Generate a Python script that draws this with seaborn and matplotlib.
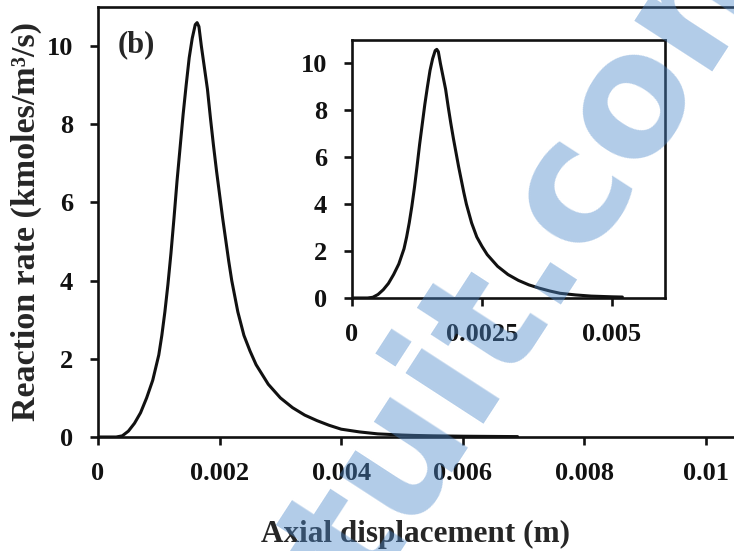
import pandas as pd
import seaborn as sns
import matplotlib.pyplot as plt

# reaction rate profile along the axis
axial_x = [0.0, 0.0003, 0.0004, 0.0005, 0.0006, 0.0007, 0.0008, 0.0009, 0.0010,
           0.00105, 0.0011, 0.00115, 0.0012, 0.00125, 0.0013, 0.00135, 0.0014,
           0.00145, 0.0015, 0.00155, 0.0016, 0.00163, 0.00166, 0.0017, 0.00175,
           0.0018, 0.00185, 0.0019, 0.00195, 0.0020, 0.00205, 0.0021, 0.00215,
           0.0022, 0.00225, 0.0023, 0.0024, 0.0025, 0.0026, 0.0028, 0.0030,
           0.0032, 0.0034, 0.0036, 0.0038, 0.0040, 0.0043, 0.0046, 0.0050,
           0.0052, 0.0055, 0.0060, 0.0069]
rate = [0.0, 0.0, 0.03, 0.15, 0.35, 0.62, 1.0, 1.45, 2.1,
        2.6, 3.2, 3.9, 4.7, 5.6, 6.55, 7.4, 8.25,
        9.0, 9.7, 10.2, 10.55, 10.6, 10.5, 10.0, 9.45,
        8.9, 8.15, 7.45, 6.8, 6.2, 5.6, 5.05, 4.5,
        4.0, 3.6, 3.2, 2.6, 2.2, 1.85, 1.35, 1.0,
        0.75, 0.56, 0.42, 0.3, 0.2, 0.13, 0.08, 0.05,
        0.04, 0.03, 0.02, 0.01]

main_ticks = [0, 0.002, 0.004, 0.006, 0.008, 0.01]
main_labels = ['0', '0.002', '0.004', '0.006', '0.008', '0.01']
inset_ticks = [0, 0.0025, 0.005]
inset_labels = ['0', '0.0025', '0.005']
y_ticks = [0, 2, 4, 6, 8, 10]

df = pd.DataFrame({'x': axial_x, 'rate': rate})
df_inset = df[df.x <= 0.0053]

sns.set_style('ticks')
plt.rcParams['font.family'] = ['Liberation Serif', 'DejaVu Serif']
plt.rcParams['font.weight'] = 'bold'

fig = plt.figure(figsize=(7.34, 5.51), dpi=100)
ax = fig.add_axes([0.1335, 0.2069, 0.8665, 0.7804])
ins = fig.add_axes([0.4796, 0.4592, 0.4264, 0.4682])

sns.lineplot(data=df, x='x', y='rate', ax=ax, color='#111111', linewidth=2.2)
sns.lineplot(data=df_inset, x='x', y='rate', ax=ins, color='#111111', linewidth=2.2)

ax.set_xlim(0, 0.01046)
ax.set_ylim(0, 11)
ax.set_xticks(main_ticks)
ax.set_xticklabels(main_labels)
ax.set_yticks(y_ticks)
ax.spines['right'].set_visible(False)

ins.set_xlim(0, 0.00602)
ins.set_ylim(0, 11)
ins.set_xticks(inset_ticks)
ins.set_xticklabels(inset_labels)
ins.set_yticks(y_ticks)

for a in (ax, ins):
    for s in a.spines.values():
        s.set_linewidth(1.9)
        s.set_color('#111111')
    a.tick_params(direction='out', length=6, width=1.9, pad=12,
                  labelsize=19, colors='#111111')
    for lab in a.get_xticklabels() + a.get_yticklabels():
        lab.set_fontweight('bold')
    a.set_xlabel('')
    a.set_ylabel('')

ax.set_xlabel('Axial displacement (m)', fontsize=22.5, fontweight='bold', labelpad=25)
ax.set_ylabel('Reaction rate (kmoles/m³/s)', fontsize=24.5, fontweight='bold', labelpad=3)
ax.text(0.031, 0.945, '(b)', transform=ax.transAxes, fontsize=22,
        fontweight='bold', va='top', ha='left')

# watermark
fig.text(0.741, 0.561, 'tuit.com', fontsize=122, fontweight='bold',
         family='DejaVu Sans', color='#4c88ca', alpha=0.43, rotation=57,
         rotation_mode='anchor', ha='center', va='center', zorder=10)

fig.savefig('out.png', dpi=100)
